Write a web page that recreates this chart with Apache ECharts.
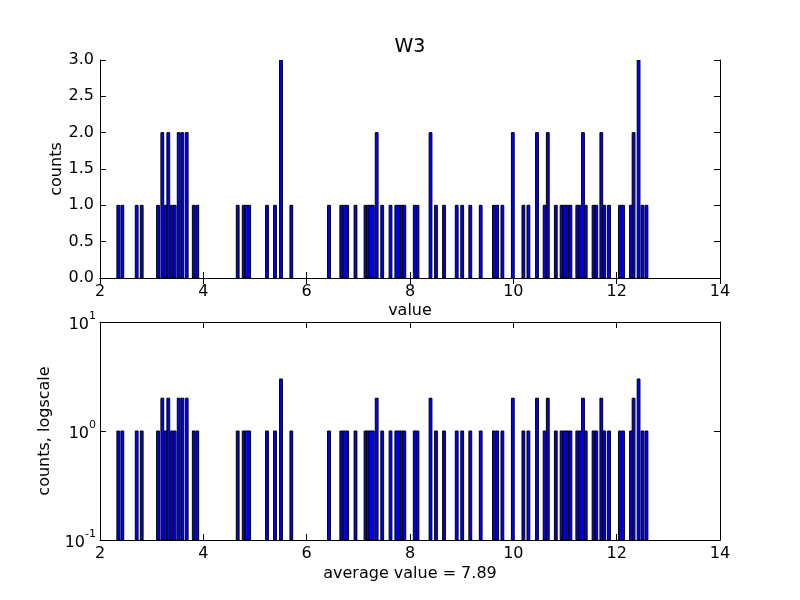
<!DOCTYPE html>
<html><head><meta charset="utf-8">
<script src="https://cdn.jsdelivr.net/npm/echarts@6/dist/echarts.min.js"></script>
<style>html,body{margin:0;padding:0;background:#fff}#c{width:800px;height:600px}</style>
</head><body><div id="c"></div>
<script>
// Histogram bin centres (value) and counts
const binCenters = [2.354,2.432,2.710,2.807,3.123,3.206,3.264,3.322,3.388,3.446,3.523,3.593,3.678,3.814,3.883,
 4.665,4.781,4.832,4.888,5.232,5.387,5.503,5.703,6.432,6.670,6.726,6.784,6.945,7.139,7.187,7.235,7.280,7.355,7.462,
 7.623,7.735,7.787,7.839,7.890,8.091,8.145,8.397,8.503,8.658,8.904,9.010,9.167,9.368,9.624,9.687,9.788,9.990,
 10.195,10.292,10.458,10.605,10.667,10.822,10.934,10.992,11.046,11.105,11.238,11.294,11.348,11.401,11.552,11.606,
 11.703,11.761,11.852,12.064,12.123,12.277,12.327,12.424,12.500,12.577];
const counts = [1,1,1,1,1,2,1,2,1,1,2,2,2,1,1,
 1,1,1,1,1,1,3,1,1,1,1,1,1,1,1,1,1,2,1,
 1,1,1,1,1,1,1,2,1,1,1,1,1,1,1,1,1,2,
 1,1,2,1,2,1,1,1,1,1,1,1,2,1,1,1,
 2,1,1,1,1,1,2,3,1,1];
const xTickValues = [2,4,6,8,10,12,14];
const yTopTicks = [0,0.5,1,1.5,2,2.5,3];
const yLogTicks = [0.1,1,10];
const titleText = 'W3';
const avgText = 'average value = 7.89';

const binWidth = 0.054;
const FONT = 'DejaVu Sans';
const data = binCenters.map((v,i)=>[v, counts[i]]);

function render(base){
  return function(params, api){
    const x = api.value(0), c = api.value(1);
    const p0 = api.coord([x - binWidth/2, c]);
    const p1 = api.coord([x + binWidth/2, base]);
    return {type:'rect', shape:{x:p0[0], y:p0[1], width:p1[0]-p0[0], height:p1[1]-p0[1]},
      style:{fill:'#0000ff', stroke:'#000', lineWidth:1}};
  };
}
const tick = {show:true, inside:true, length:6, lineStyle:{color:'#000', width:1}};
const line = {show:true, lineStyle:{color:'#000', width:1}};
function xAx(grid, pos, labels){
  return {type:'value', gridIndex:grid, position:pos, min:2, max:14, interval:2,
    axisLine:line, axisTick:tick, splitLine:{show:false},
    axisLabel:{show:labels, color:'#000', fontFamily:FONT, fontSize:16, margin:6}};
}
const chart = echarts.init(document.getElementById('c'), null, {renderer:'canvas'});
chart.setOption({
  animation:false,
  backgroundColor:'#fff',
  grid:[{left:100, top:60, width:620, height:218},{left:100, top:322, width:620, height:218}],
  xAxis:[xAx(0,'bottom',true), xAx(0,'top',false), xAx(1,'bottom',true), xAx(1,'top',false)],
  yAxis:[
    {type:'value', gridIndex:0, position:'left', min:0, max:3, interval:0.5, axisLine:line, axisTick:tick, splitLine:{show:false},
     axisLabel:{color:'#000', fontFamily:FONT, fontSize:16, margin:6, formatter:v=>v.toFixed(1)}},
    {type:'value', gridIndex:0, position:'right', min:0, max:3, interval:0.5, axisLine:line, axisTick:tick, splitLine:{show:false}, axisLabel:{show:false}},
    {type:'log', logBase:10, gridIndex:1, position:'left', min:0.1, max:10, axisLine:line, axisTick:tick, splitLine:{show:false},
     axisLabel:{color:'#000', fontFamily:FONT, fontSize:16, margin:4,
       formatter:v=>'{b|10}{s|' + Math.round(Math.log10(v)) + '}',
       rich:{b:{fontFamily:FONT, fontSize:16, color:'#000', lineHeight:22, verticalAlign:'bottom'},
             s:{fontFamily:FONT, fontSize:11, color:'#000', lineHeight:22, verticalAlign:'top'}}}},
    {type:'log', logBase:10, gridIndex:1, position:'right', min:0.1, max:10, axisLine:line, axisTick:tick, splitLine:{show:false}, axisLabel:{show:false}}
  ],
  series:[
    {type:'custom', xAxisIndex:0, yAxisIndex:0, data:data, renderItem:render(0), clip:true},
    {type:'custom', xAxisIndex:2, yAxisIndex:2, data:data, renderItem:render(0.1), clip:true}
  ],
  graphic:[
    {type:'text', x:410, y:47, style:{text:titleText, font:'19px "DejaVu Sans"', fill:'#000', textAlign:'center', textVerticalAlign:'middle'}},
    {type:'text', x:57, y:169, rotation:Math.PI/2, style:{text:'counts', font:'16px "DejaVu Sans"', fill:'#000', textAlign:'center', textVerticalAlign:'middle'}},
    {type:'text', x:410, y:311, style:{text:'value', font:'16px "DejaVu Sans"', fill:'#000', textAlign:'center', textVerticalAlign:'middle'}},
    {type:'text', x:45, y:431, rotation:Math.PI/2, style:{text:'counts, logscale', font:'16px "DejaVu Sans"', fill:'#000', textAlign:'center', textVerticalAlign:'middle'}},
    {type:'text', x:410, y:574, style:{text:avgText, font:'16px "DejaVu Sans"', fill:'#000', textAlign:'center', textVerticalAlign:'middle'}}
  ]
});
</script></body></html>
